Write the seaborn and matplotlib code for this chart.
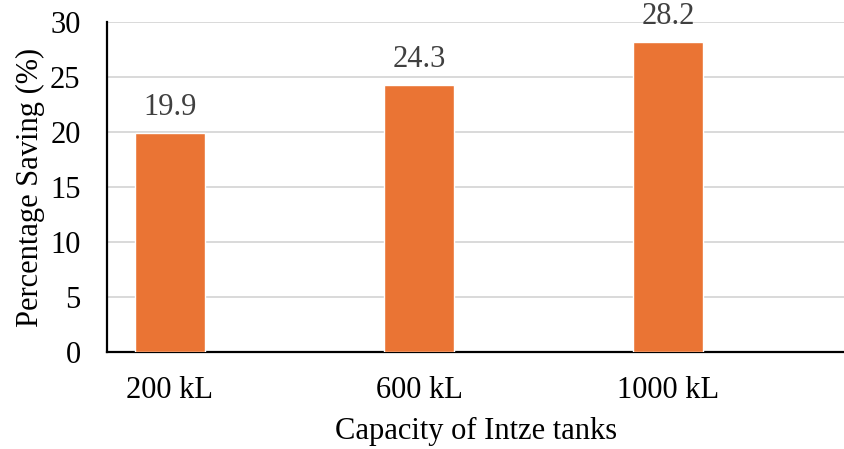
import matplotlib
matplotlib.use("Agg")
import matplotlib.pyplot as plt
import seaborn as sns
import pandas as pd

capacities = ["200 kL", "600 kL", "1000 kL"]
saving_pct = [19.9, 24.3, 28.2]
y_ticks = [0, 5, 10, 15, 20, 25, 30]

sns.set_theme(style="white")
plt.rcParams["font.family"] = ["Liberation Serif", "DejaVu Serif"]

df = pd.DataFrame({"capacity": capacities, "saving": saving_pct})

fig = plt.figure(figsize=(8.45, 4.49), dpi=100)
ax = fig.add_axes([0.1266, 0.216, 0.8734, 0.735])

sns.barplot(data=df, x="capacity", y="saving", color="#EA7434", saturation=1,
            width=0.28, ax=ax, zorder=3)

ax.set_ylim(0, 30)
ax.set_xlim(-0.253, 2.71)
ax.set_yticks(y_ticks)
ax.yaxis.grid(True, color="#D9D9D9", linewidth=1.4, zorder=0)
ax.set_axisbelow(True)

for side in ["top", "right"]:
    ax.spines[side].set_visible(False)
for side in ["left", "bottom"]:
    ax.spines[side].set_color("black")
    ax.spines[side].set_linewidth(1.6)

fs = 22
ax.tick_params(axis="y", length=0, pad=19, labelsize=fs, labelcolor="black")
ax.tick_params(axis="x", length=0, pad=17, labelsize=fs, labelcolor="black")

for container in ax.containers:
    ax.bar_label(container, fmt="%.1f", padding=8, fontsize=fs, color="#404040")

ax.set_xlabel("Capacity of Intze tanks", fontsize=fs, color="black", labelpad=9)
ax.set_ylabel("Percentage Saving (%)", fontsize=fs, color="black", labelpad=4)

fig.savefig("out.png", dpi=100)
